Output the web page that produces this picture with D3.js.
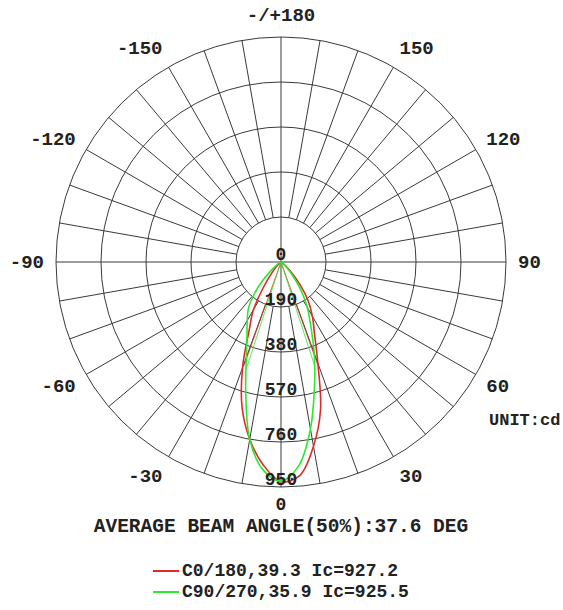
<!DOCTYPE html>
<html>
<head>
<meta charset="utf-8">
<script src="https://cdn.jsdelivr.net/npm/d3@7/dist/d3.min.js"></script>
<style>
  body { margin: 0; background: #fff; }
  svg { display: block; font-family: "Liberation Mono", "Courier New", monospace; font-weight: bold; }
</style>
</head>
<body>
<svg width="563" height="610"></svg>
<script>
// ---- Dados (intensidade em cd por ângulo gama)
const gammaAngles = [0, 5, 10, 15, 20, 25, 30, 35, 40, 45, 50, 55, 60, 70, 80, 90];
const c0Values   = [927, 905, 790, 645, 455, 335, 265, 200, 126, 60, 25, 10, 3, 0, 0, 0];
const c180Values = [927, 860, 760, 635, 475, 318, 232, 125, 60, 30, 12, 5, 0, 0, 0, 0];
const c90Values  = [925, 863, 716, 546, 410, 297, 222, 150, 80, 38, 15, 6, 3, 0, 0, 0];
const c270Values = [925, 880, 760, 575, 428, 340, 285, 240, 175, 105, 50, 22, 10, 2, 0, 0];

const ringTicks = [0, 190, 380, 570, 760, 950];
const angleTicks = [0, 30, 60, 90, 120, 150, 180, -30, -60, -90, -120, -150];
const angleTickLabels = ['0', '30', '60', '90', '120', '150', '-/+180', '-30', '-60', '-90', '-120', '-150'];

const seriesNames = ['C0/180', 'C90/270'];
const beamAngles = [39.3, 35.9];
const peakValues = [927.2, 925.5];
const seriesColors = ['#e02a2a', '#2ee82e'];

const avgBeamText = 'AVERAGE BEAM ANGLE(50%):37.6 DEG';
const unitText = 'UNIT:cd';

const svg = d3.select('svg');
const cx = 281, cy = 262;
const outerR = 225;

const rScale = d3.scaleLinear().domain([0, 950]).range([0, outerR]);
const rad = d => d * Math.PI / 180;
// 0 graus embaixo, positivo para a direita
const px = (g, r) => cx + r * Math.sin(rad(g));
const py = (g, r) => cy + r * Math.cos(rad(g));

const chart = svg.append('g').attr('transform', `translate(${cx}, ${cy})`);

// ---- Grade: círculos
chart.selectAll('.ring')
    .data(ringTicks.slice(1))
    .join('circle')
    .attr('class', 'ring')
    .attr('r', d => rScale(d))
    .attr('fill', 'none')
    .attr('stroke', '#3a3a3a')
    .attr('stroke-width', 1);

// ---- Grade: raios a cada 10 graus
const spokes = d3.range(0, 360, 10);
chart.selectAll('.spoke')
    .data(spokes)
    .join('line')
    .attr('class', 'spoke')
    .attr('x1', d => (d % 90 === 0 ? 0 : rScale(ringTicks[1])) * Math.sin(rad(d)))
    .attr('y1', d => (d % 90 === 0 ? 0 : rScale(ringTicks[1])) * Math.cos(rad(d)))
    .attr('x2', d => outerR * Math.sin(rad(d)))
    .attr('y2', d => outerR * Math.cos(rad(d)))
    .attr('stroke', '#3a3a3a')
    .attr('stroke-width', 1);

// ---- Curvas
const series = [
    { left: c180Values, right: c0Values },
    { left: c270Values, right: c90Values }
];

const radial = d3.lineRadial()
    .angle(d => Math.PI - rad(d.g))
    .radius(d => rScale(d.v))
    .curve(d3.curveCatmullRom.alpha(0.5));

series.forEach((s, i) => {
    const pts = [];
    for (let k = gammaAngles.length - 1; k >= 0; k--) pts.push({ g: -gammaAngles[k], v: s.left[k] });
    for (let k = 1; k < gammaAngles.length; k++) pts.push({ g: gammaAngles[k], v: s.right[k] });

    // linhas do ângulo de facho (50%)
    const half = beamAngles[i] / 2;
    [-half, half].forEach(g => {
        chart.append('line')
            .attr('x1', 0).attr('y1', 0)
            .attr('x2', rScale(peakValues[i] / 2) * Math.sin(rad(g)))
            .attr('y2', rScale(peakValues[i] / 2) * Math.cos(rad(g)))
            .attr('stroke', seriesColors[i])
            .attr('stroke-width', 1)
            .attr('opacity', 0.8);
    });

    chart.append('path')
        .datum(pts)
        .attr('d', radial)
        .attr('fill', 'none')
        .attr('stroke', seriesColors[i])
        .attr('stroke-width', 1.6);
});

// ---- Rótulos dos anéis
chart.selectAll('.ringLabel')
    .data(ringTicks)
    .join('text')
    .attr('class', 'ringLabel')
    .attr('x', 0)
    .attr('y', d => rScale(d) - 2.5)
    .attr('text-anchor', 'middle')
    .attr('font-size', '18px')
    .attr('fill', '#222')
    .text(d => d);

// ---- Rótulos dos ângulos
svg.selectAll('.angleLabel')
    .data(angleTicks)
    .join('text')
    .attr('class', 'angleLabel')
    .attr('x', d => (d === 0 || d === 180) ? cx : px(d, 237))
    .attr('y', d => d === 0 ? py(d, 242) : py(d, 247))
    .attr('dy', '0.32em')
    .attr('text-anchor', d => (d === 0 || d === 180) ? 'middle' : (d > 0 ? 'start' : 'end'))
    .attr('font-size', d => d === 0 ? '18px' : '19px')
    .attr('fill', '#222')
    .text((d, i) => angleTickLabels[i]);

svg.append('text')
    .attr('x', 489)
    .attr('y', 425)
    .attr('font-size', '17px')
    .attr('fill', '#222')
    .text(unitText);

svg.append('text')
    .attr('x', 281)
    .attr('y', 532)
    .attr('text-anchor', 'middle')
    .attr('font-size', '19.5px')
    .attr('fill', '#222')
    .text(avgBeamText);

// ---- Legenda
const legend = svg.append('g').attr('transform', 'translate(153, 571)');
const legendItems = legend.selectAll('.legend-item')
    .data(seriesNames)
    .join('g')
    .attr('class', 'legend-item')
    .attr('transform', (d, i) => `translate(0, ${i * 21})`);

legendItems.append('line')
    .attr('x1', 0).attr('x2', 26)
    .attr('y1', 0).attr('y2', 0)
    .attr('stroke', (d, i) => seriesColors[i])
    .attr('stroke-width', 2);

legendItems.append('text')
    .attr('x', 29)
    .attr('y', 5)
    .attr('font-size', '18px')
    .attr('fill', '#222')
    .text((d, i) => `${d},${beamAngles[i]} Ic=${peakValues[i]}`);
</script>
</body>
</html>
